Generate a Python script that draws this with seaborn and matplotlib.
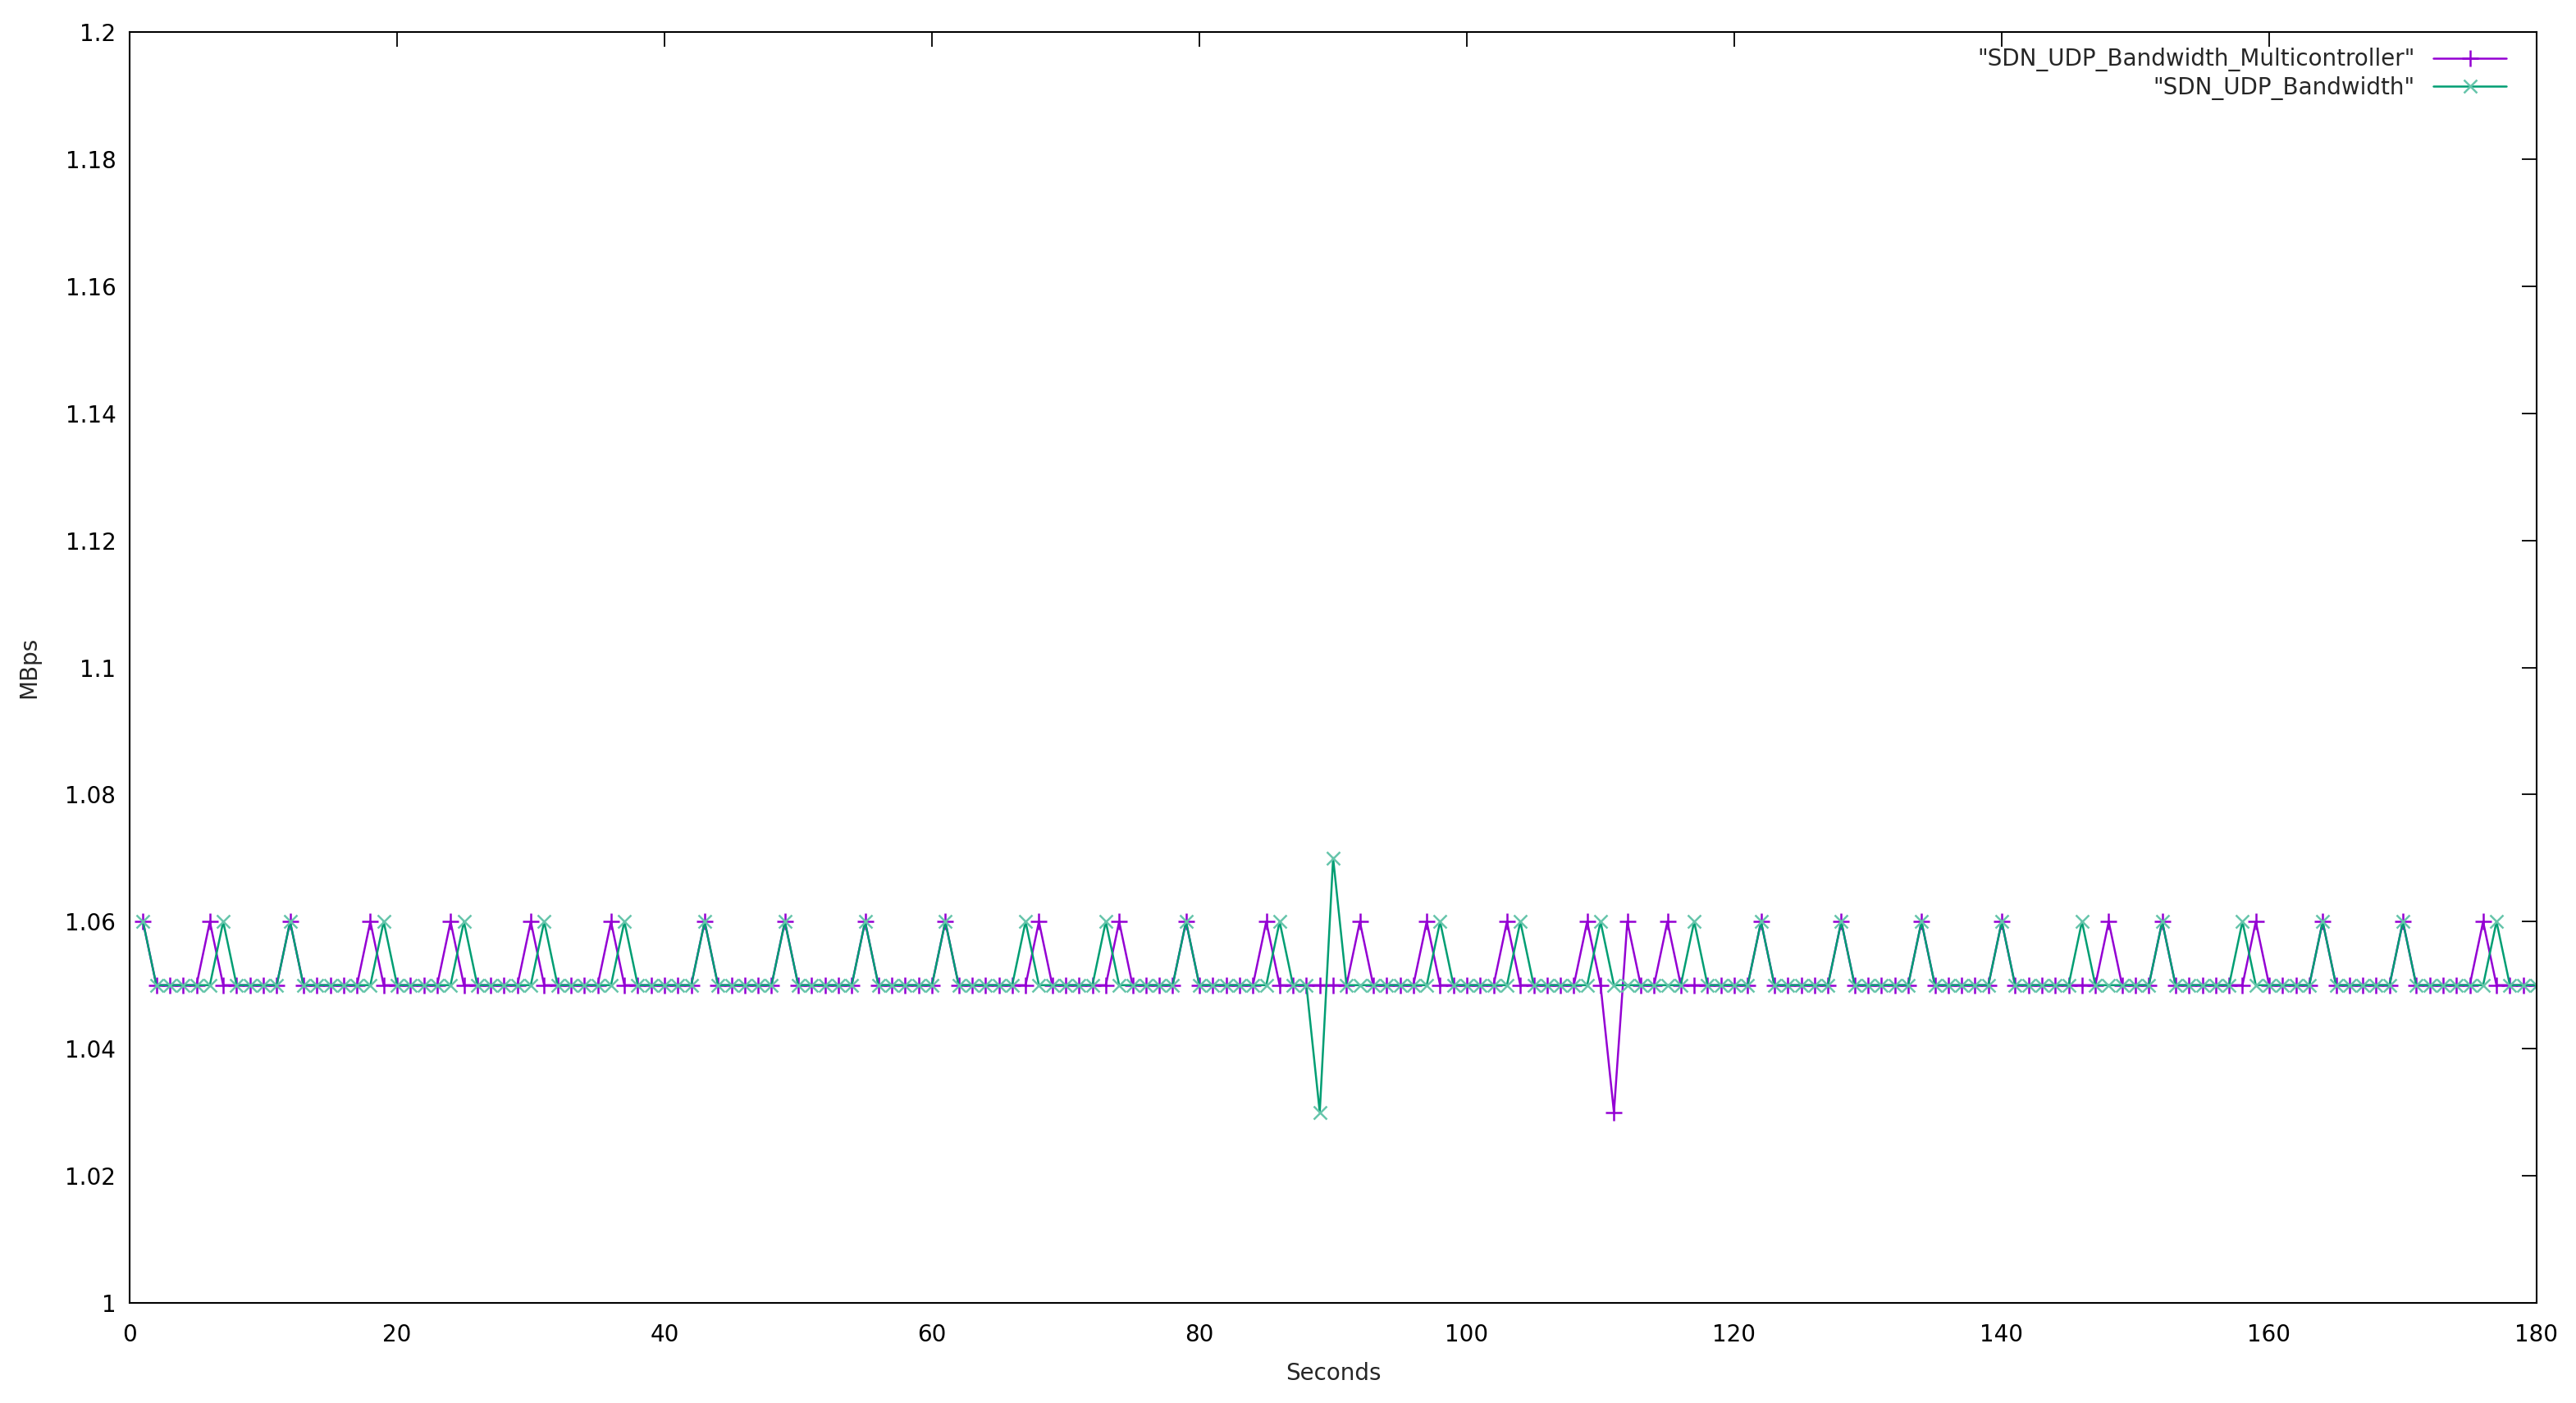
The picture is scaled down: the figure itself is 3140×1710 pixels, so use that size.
import pandas as pd
import matplotlib
matplotlib.use("Agg")
import matplotlib.pyplot as plt
import seaborn as sns
from matplotlib.ticker import FuncFormatter

seconds = list(range(1, 181))

# peaks (1.06) and dips for each run; rest is 1.05
multi_peaks = [1, 6, 12, 18, 24, 30, 36, 43, 49, 55, 61, 68, 74, 79, 85, 92, 97, 103,
               109, 112, 115, 122, 128, 134, 140, 148, 152, 159, 164, 170, 176]
multi_dips = {111: 1.03}
single_peaks = [1, 7, 12, 19, 25, 31, 37, 43, 49, 55, 61, 67, 73, 79, 86, 98, 104,
                110, 117, 122, 128, 134, 140, 146, 152, 158, 164, 170, 177]
single_dips = {89: 1.03, 90: 1.07}

multi = [1.06 if s in multi_peaks else multi_dips.get(s, 1.05) for s in seconds]
single = [1.06 if s in single_peaks else single_dips.get(s, 1.05) for s in seconds]

name_multi = '"SDN_UDP_Bandwidth_Multicontroller"'
name_single = '"SDN_UDP_Bandwidth"'
col_multi = "#9400D3"
col_single = "#009E73"

sns.set_style("white")
plt.rcParams["font.family"] = ["DejaVu Sans"]

fig = plt.figure(figsize=(31.4, 17.1), dpi=100)
ax = fig.add_axes([158 / 3140, 1 - 1588 / 1710, (3092 - 158) / 3140, (1588 - 39) / 1710])

sns.lineplot(x=seconds, y=multi, color=col_multi, marker="+", markersize=14,
             markeredgewidth=1.8, markeredgecolor=col_multi, linewidth=1.8,
             label=name_multi, ax=ax)
sns.lineplot(x=seconds, y=single, color=col_single, marker="x", markersize=12,
             markeredgewidth=1.8, markeredgecolor="#66c5ab", linewidth=1.8,
             label=name_single, ax=ax)

ax.set_xlim(0, 180)
ax.set_ylim(1, 1.2)
ax.set_xticks(range(0, 181, 20))
ax.set_yticks([1 + 0.02 * i for i in range(11)])
ax.yaxis.set_major_formatter(FuncFormatter(lambda v, p: "%g" % round(v, 2)))
ax.tick_params(direction="in", length=13, width=1.3, top=True, right=True,
               labelsize=20, colors="black")
ax.tick_params(axis="x", pad=18)
ax.tick_params(axis="y", pad=12)
for sp in ax.spines.values():
    sp.set_color("black")
    sp.set_linewidth(1.5)

ax.set_xlabel("Seconds", fontsize=20, labelpad=14)
ax.set_ylabel("MBps", fontsize=20, labelpad=22)

ax.legend(loc="upper right", frameon=False, markerfirst=False,
          fontsize=20, handlelength=3.2, labelspacing=0.2,
          borderaxespad=0.3, bbox_to_anchor=(0.994, 1.0))

fig.savefig("out.png", dpi=100)
